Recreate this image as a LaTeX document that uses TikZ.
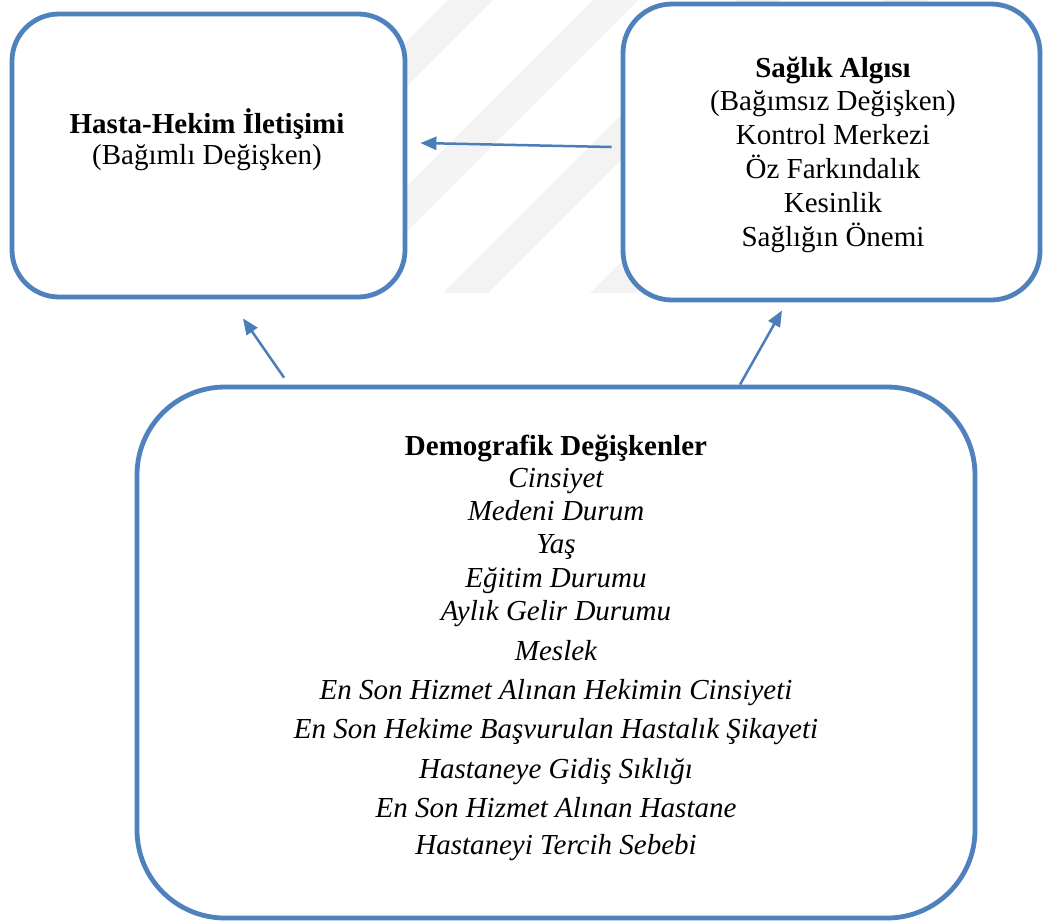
\documentclass[tikz,border=0pt]{standalone}
\usepackage{fontspec}
\setmainfont{Liberation Serif}
\usetikzlibrary{arrows.meta}
\definecolor{frame}{HTML}{4F81BD}
\definecolor{linkc}{HTML}{4A7EBB}
\definecolor{wmark}{HTML}{F3F3F3}
\tikzset{
  box/.style={draw=frame, line width=4.8pt, fill=white, rectangle, inner sep=0pt, rounded corners=#1},
  box/.default=50pt,
  link/.style={draw=linkc, line width=2.5pt, -{Triangle[length=16pt,width=13pt]}},
  band/.style={fill=wmark, draw=none},
  head/.style={font=\fontsize{29}{33}\selectfont\bfseries, anchor=base, inner sep=0pt},
  lab/.style={font=\fontsize{29}{33}\selectfont, anchor=base, inner sep=0pt},
  labi/.style={font=\fontsize{29}{33}\selectfont\itshape, anchor=base, inner sep=0pt},
}

\begin{document}
\begin{tikzpicture}[x=1pt, y=-1pt]
  \useasboundingbox (0,0) rectangle (1043,922);
  \fill[white] (0,0) rectangle (1043,922);
  % faint watermark stripes
  \foreach \b in {155,300,443,590}
    \fill[band] (\b,293) -- (\b+45,293) -- (\b+338,0) -- (\b+293,0) -- cycle;

  \node[box=47pt, minimum width=393pt, minimum height=283pt] (hekim) at (208.5,155.5) {};
  \node[box=49pt, minimum width=417pt, minimum height=296pt] (algi) at (831.5,152) {};
  \node[box=88pt, minimum width=838pt, minimum height=531pt] (demo) at (556,652.5) {};

  \node[head] (hekim0) at (207,133) {Hasta-Hekim İletişimi};
  \node[lab] (hekim1) at (207,164) {(Bağımlı Değişken)};

  \node[head] (algi0) at (833,77) {Sağlık Algısı};
  \foreach \t [count=\i] in {{(Bağımsız Değişken)}, Kontrol Merkezi, Öz Farkındalık, Kesinlik, Sağlığın Önemi}
    \node[lab] (algi\i) at (833,{77+33.8*\i}) {\t};

  \node[head] (demo0) at (556,455) {Demografik Değişkenler};
  \foreach \y/\t [count=\i] in {487/Cinsiyet, 520/Medeni Durum, 553/Yaş, 587/Eğitim Durumu,
      620/Aylık Gelir Durumu, 660/Meslek, 699/En Son Hizmet Alınan Hekimin Cinsiyeti,
      738/En Son Hekime Başvurulan Hastalık Şikayeti, 778/Hastaneye Gidiş Sıklığı,
      817/En Son Hizmet Alınan Hastane, 854/Hastaneyi Tercih Sebebi}
    \node[labi] (demo\i) at (556,\y) {\t};

  \draw[link] ([shift={(-9,-5)}]algi.west) -- ([shift={(13,-12.5)}]hekim.east);
  \draw[link] ([shift={(-272,-7)}]demo.north) -- ([shift={(34.5,19)}]hekim.south);
  \draw[link] ([shift={(184,0)}]demo.north) -- ([shift={(-49.5,8)}]algi.south);
\end{tikzpicture}
\end{document}
